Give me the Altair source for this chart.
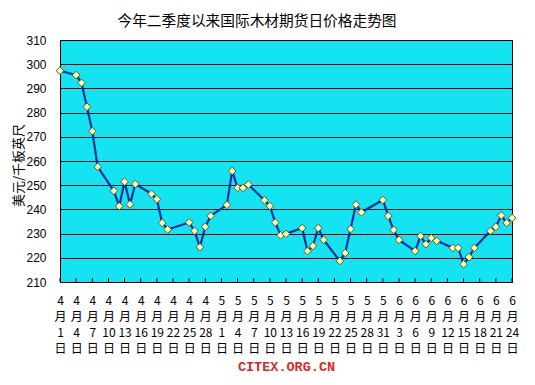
import altair as alt
import pandas as pd

title_text = "今年二季度以来国际木材期货日价格走势图"
y_title = "美元/千板英尺"
x_title = "CITEX.ORG.CN"

dates = [
    "2011-04-01", "2011-04-04", "2011-04-05", "2011-04-06", "2011-04-07", "2011-04-08",
    "2011-04-11", "2011-04-12", "2011-04-13", "2011-04-14", "2011-04-15",
    "2011-04-18", "2011-04-19", "2011-04-20", "2011-04-21",
    "2011-04-25", "2011-04-26", "2011-04-27", "2011-04-28", "2011-04-29",
    "2011-05-02", "2011-05-03", "2011-05-04", "2011-05-05", "2011-05-06",
    "2011-05-09", "2011-05-10", "2011-05-11", "2011-05-12", "2011-05-13",
    "2011-05-16", "2011-05-17", "2011-05-18", "2011-05-19", "2011-05-20",
    "2011-05-23", "2011-05-24", "2011-05-25", "2011-05-26", "2011-05-27",
    "2011-05-31", "2011-06-01", "2011-06-02", "2011-06-03",
    "2011-06-06", "2011-06-07", "2011-06-08", "2011-06-09", "2011-06-10",
    "2011-06-13", "2011-06-14", "2011-06-15", "2011-06-16", "2011-06-17",
    "2011-06-20", "2011-06-21", "2011-06-22", "2011-06-23", "2011-06-24",
]
prices = [
    297.3, 295.5, 292.3, 282.4, 272.3, 257.6,
    247.7, 241.3, 251.4, 242.1, 250.5,
    246.4, 244.2, 234.4, 231.7,
    234.6, 231.1, 224.4, 232.8, 237.3,
    241.9, 255.9, 248.9, 248.9, 250.3,
    243.8, 241.4, 234.6, 229.3, 229.9,
    232.3, 222.8, 224.9, 232.3, 227.4,
    218.7, 222.0, 231.9, 242.0, 238.8,
    243.9, 237.3, 231.5, 227.4,
    222.8, 229.0, 225.6, 228.2, 227.0,
    224.1, 224.1, 217.4, 220.3, 224.1,
    231.1, 232.8, 237.5, 234.4, 236.5,
]
tick_dates = [
    "2011-04-01", "2011-04-04", "2011-04-07", "2011-04-10", "2011-04-13",
    "2011-04-16", "2011-04-19", "2011-04-22", "2011-04-25", "2011-04-28",
    "2011-05-01", "2011-05-04", "2011-05-07", "2011-05-10", "2011-05-13",
    "2011-05-16", "2011-05-19", "2011-05-22", "2011-05-25", "2011-05-28",
    "2011-05-31", "2011-06-03", "2011-06-06", "2011-06-09", "2011-06-12",
    "2011-06-15", "2011-06-18", "2011-06-21", "2011-06-24",
]
y_ticks = [210, 220, 230, 240, 250, 260, 270, 280, 290, 300, 310]

df = pd.DataFrame({"date": dates, "price": prices})
tick_df = pd.DataFrame({"date": tick_dates})
tick_ms = [int(v) for v in (pd.to_datetime(tick_dates).astype("int64") // 10**6)]

xscale = alt.Scale(
    type="utc",
    domain=[alt.DateTime(year=2011, month=4, date=1, utc=True),
            alt.DateTime(year=2011, month=6, date=24, utc=True)],
    nice=False,
)
xaxis = alt.Axis(
    values=tick_ms,
    labelExpr="[utcFormat(datum.value, '%-m'), '月', utcFormat(datum.value, '%-d'), '日']",
    labelOverlap=False, labelFlush=False, labelBound=False,
    labelFont="Noto Sans CJK SC", labelFontSize=12, labelLineHeight=16,
    labelPadding=13, labelColor="black",
    ticks=False, tickSize=0, domain=False, grid=False,
    title=x_title, titleFont="Liberation Mono", titleFontSize=13.5,
    titleFontWeight="bold", titleColor="#D42A2A",
    titleX=226, titleY=84, titleBaseline="middle", titleAlign="center",
)
yscale = alt.Scale(domain=[210, 310], nice=False, zero=False)
yaxis = alt.Axis(
    values=y_ticks, grid=True, gridColor="black", gridWidth=1, gridOpacity=1,
    ticks=False, domain=False,
    labelFont="Liberation Sans", labelFontSize=12, labelPadding=14, labelColor="black",
    title=y_title, titleFont="Noto Sans CJK SC", titleFontSize=13,
    titleFontWeight="normal", titleColor="black",
    titleAngle=270, titleX=-42, titleY=125, titleAlign="center", titleBaseline="middle",
)

x_enc = alt.X("date:T", scale=xscale, axis=xaxis)

line = alt.Chart(df).mark_line(color="#00309C", strokeWidth=2.2).encode(
    x=x_enc, y=alt.Y("price:Q", scale=yscale, axis=yaxis)
)
pts = alt.Chart(df).mark_point(
    shape="diamond", fill="#FFFF99", stroke="#555555", strokeWidth=1,
    fillOpacity=1, opacity=1, size=60,
).encode(x=x_enc, y=alt.Y("price:Q", scale=yscale, axis=yaxis))

ticks = alt.Chart(tick_df).mark_rule(color="black", strokeWidth=1).encode(
    x=x_enc,
    y=alt.Y(datum=210, scale=yscale, axis=yaxis),
    y2=alt.Y2(datum=211.65),
)

chart = alt.layer(ticks, line, pts).properties(
    width=452, height=242,
    title=alt.TitleParams(
        title_text, font="Noto Sans CJK SC", fontSize=14.7, fontWeight="normal",
        color="black", anchor="middle", dx=-29, dy=21, offset=18, baseline="middle",
    ),
    autosize=alt.AutoSizeParams(type="none"),
    padding={"left": 52, "top": 32, "right": 14, "bottom": 94},
    background="white",
).configure_view(fill="#14E4F2", stroke="black", strokeWidth=1)

chart.save("out.html", embed_options={"renderer": "svg", "actions": False})
